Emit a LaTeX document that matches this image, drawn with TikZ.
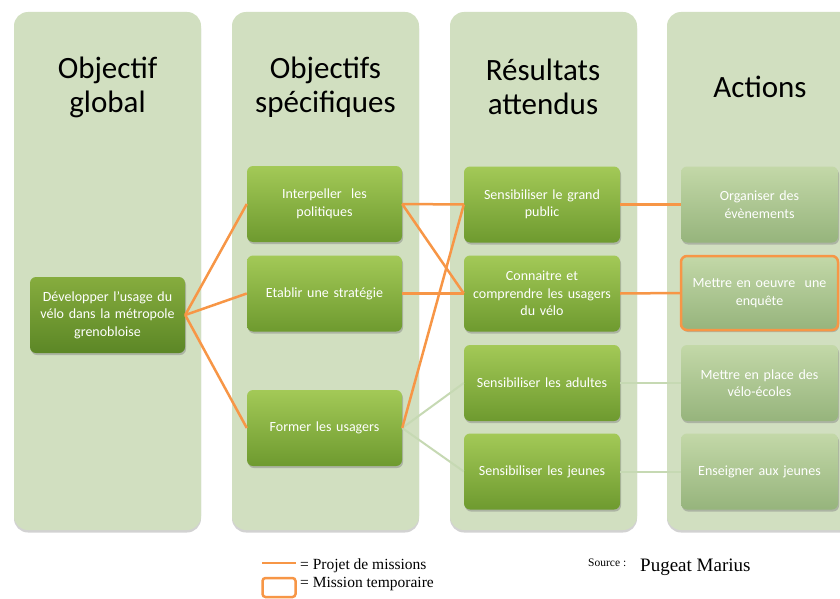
\documentclass[tikz,border=0pt]{standalone}
\usepackage{fontspec}
\setmainfont{Carlito}
\newfontfamily\legfont{Liberation Serif}
\usetikzlibrary{shadows}
\definecolor{panelc}{HTML}{D1DFC0}
\definecolor{orng}{HTML}{F79646}
\definecolor{lgreen}{HTML}{C6D9B3}
\definecolor{gtop}{HTML}{A3C957}
\definecolor{gbot}{HTML}{6E9A2F}
\definecolor{dtop}{HTML}{86AC3E}
\definecolor{dbot}{HTML}{5C8726}
\definecolor{ltop}{HTML}{C3D8A8}
\definecolor{lbot}{HTML}{96B47C}
\tikzset{
  panel/.style={fill=panelc, rounded corners=14pt, drop shadow={shadow xshift=0pt, shadow yshift=-2.5pt, opacity=0.35}},
  boxbase/.style={rounded corners=6pt, minimum width=155pt, minimum height=76pt, text width=150pt,
    align=center, text=white, font=\fontsize{14}{17.5}\selectfont, inner sep=2pt,
    drop shadow={shadow xshift=1pt, shadow yshift=-2pt, opacity=0.45}},
  gbox/.style={boxbase, top color=gtop, bottom color=gbot},
  dbox/.style={boxbase, top color=dtop, bottom color=dbot},
  lbox/.style={boxbase, top color=ltop, bottom color=lbot},
  title/.style={font=\fontsize{31}{34}\selectfont, align=center, text=black},
  oline/.style={draw=orng, line width=2.5pt},
  gline/.style={draw=lgreen, line width=2pt},
  leg/.style={font=\legfont\fontsize{15.5}{18}\selectfont, anchor=west, inner sep=0pt}
}
\begin{document}
\begin{tikzpicture}[x=1pt,y=-1pt]
\useasboundingbox (0,0) rectangle (840,599);
\clip (0,0) rectangle (840,599);
\fill[white] (0,0) rectangle (840,599);
% panels
\path[panel] (14,12) rectangle (201,530);
\path[panel] (232,12) rectangle (419,530);
\path[panel] (450,12) rectangle (637,530);
\path[panel] (667,12) rectangle (870,530);
% titles
\node[title] (t1) at (107.5,87) {Objectif\\global};
\node[title] (t2) at (325.5,87) {Objectifs\\spécifiques};
\node[title] (t3) at (543,87) {Résultats\\attendus};
\node[title] (t4) at (760,87) {Actions};
% boxes
\node[dbox] (g) at (107.5,315) {Développer l'usage du\\vélo dans la métropole\\grenobloise};
\node[gbox] (s1) at (324.5,204) {Interpeller\ \ les\\politiques};
\node[gbox] (s2) at (324.5,293.5) {Etablir une stratégie};
\node[gbox] (s3) at (324.5,428) {Former les usagers};
\node[gbox, minimum width=156pt] (r1) at (542,204.5) {Sensibiliser le grand\\public};
\node[gbox, minimum width=156pt] (r2) at (542,293.5) {Connaitre et\\comprendre les usagers\\du vélo};
\node[gbox, minimum width=156pt] (r3) at (542,383) {Sensibiliser les adultes};
\node[gbox, minimum width=156pt] (r4) at (542,471.5) {Sensibiliser les jeunes};
\node[lbox, minimum width=157pt] (a1) at (759.5,204.5) {Organiser des\\évènements};
\node[lbox, minimum width=157pt, minimum height=74pt, draw=orng, line width=2.5pt] (a2) at (759.5,293) {Mettre en oeuvre\ \ une\\enquête};
\node[lbox, minimum width=157pt] (a3) at (759.5,383) {Mettre en place des\\vélo-écoles};
\node[lbox, minimum width=157pt] (a4) at (759.5,471.5) {Enseigner aux jeunes};
% connectors
\begin{scope}[on background layer/.style={}]
\path[gline] (s3.east) -- (r3.west);
\path[gline] (s3.east) -- (r4.west);
\path[gline] (r3.east) -- (a3.west);
\path[gline] (r4.east) -- (a4.west);
\path[oline] (g.east) -- (s1.west);
\path[oline] (g.east) -- (s2.west);
\path[oline] (g.east) -- (s3.west);
\path[oline] (s1.east) -- (r1.west);
\path[oline] (s1.east) -- (r2.west);
\path[oline] (s2.east) -- (r2.west);
\path[oline] (s3.east) -- (r1.west);
\path[oline] (r1.east) -- (a1.west);
\path[oline] (r2.east) -- (a2.west);
\end{scope}
% legend
\coordinate (l1a) at (262,563);
\coordinate (l1b) at (296,563);
\path[oline] (l1a) -- (l1b);
\node[draw=orng, line width=2.5pt, rounded corners=3pt, minimum width=33pt, minimum height=19pt, inner sep=0pt] (lbx) at (279,587.5) {};
\node[leg] (lt1) at (300,566) {= Projet de missions};
\node[leg] (lt2) at (300,584) {= Mission temporaire};
\node[leg, font=\legfont\fontsize{11.5}{13}\selectfont] (src) at (588,563) {Source :};
\node[leg, font=\legfont\fontsize{19}{22}\selectfont] (pm) at (640,567) {Pugeat Marius};
\end{tikzpicture}
\end{document}
